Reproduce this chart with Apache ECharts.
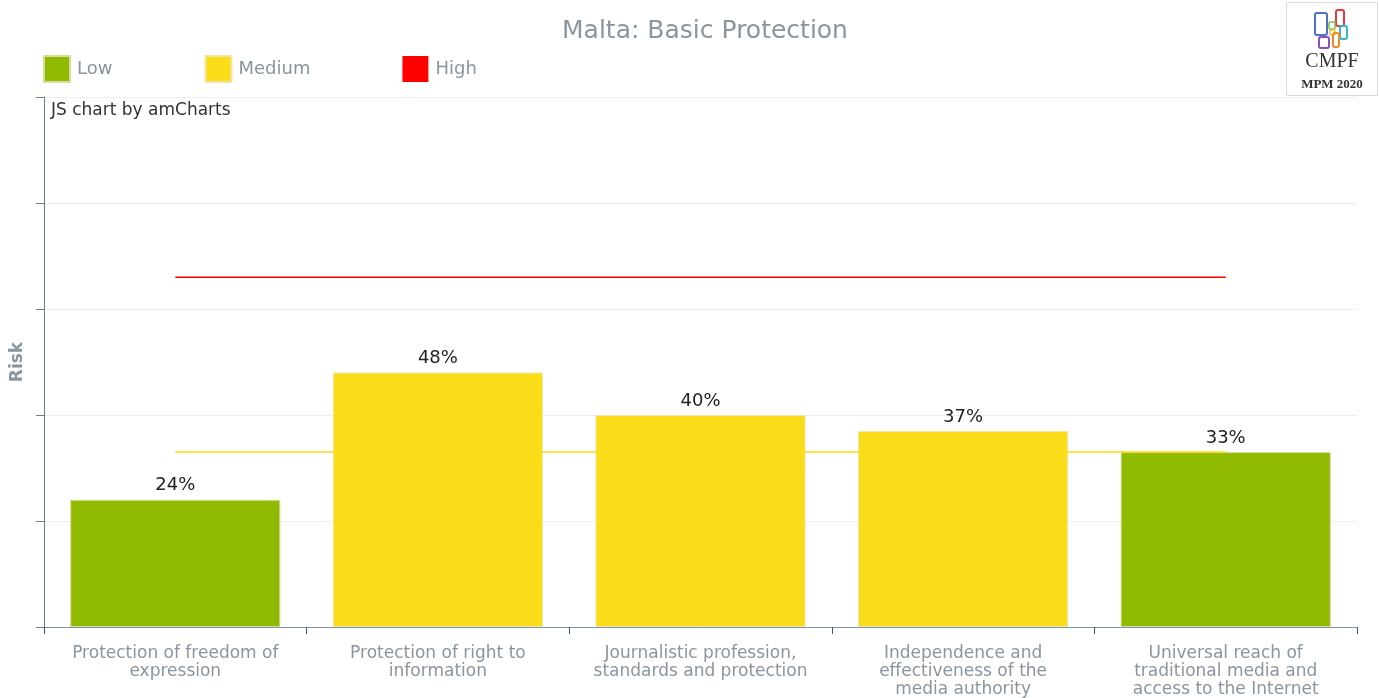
<!DOCTYPE html>
<html>
<head>
<meta charset="utf-8">
<title>Malta: Basic Protection</title>
<script src="https://cdn.jsdelivr.net/npm/echarts@6/dist/echarts.min.js"></script>
<style>
  html, body { margin: 0; padding: 0; background: #ffffff; }
  #chart { width: 1379px; height: 698px; }
</style>
</head>
<body>
<div id="chart"></div>
<script>
// Areas of the Basic Protection indicator and their risk scores (%)
const categories = [
  'Protection of freedom of\nexpression',
  'Protection of right to\ninformation',
  'Journalistic profession,\nstandards and protection',
  'Independence and\neffectiveness of the\nmedia authority',
  'Universal reach of\ntraditional media and\naccess to the Internet'
];
const riskValues = [24, 48, 40, 37, 33];

// Risk band limits
const mediumLimit = 33;
const highLimit = 66;

const yTicks = [0, 20, 40, 60, 80, 100];

const GREEN = '#8fba00';
const YELLOW = '#fadc19';
const RED = '#ff0000';
const GREY_TEXT = '#8a959f';

// split scores into the Low / Medium band series (bars overlap in one slot)
const lowData = riskValues.map(v => (v <= mediumLimit ? v : '-'));
const mediumData = riskValues.map(v => (v > mediumLimit && v <= highLimit ? v : '-'));
const mediumLine = categories.map(() => mediumLimit);
const highLine = categories.map(() => highLimit);

const chart = echarts.init(document.getElementById('chart'), null, { renderer: 'canvas' });

const barLabel = {
  show: true,
  position: 'top',
  distance: 5,
  color: '#222222',
  fontSize: 18,
  fontFamily: 'DejaVu Sans',
  formatter: p => p.value + '%'
};

const option = {
  animation: false,
  backgroundColor: '#ffffff',
  textStyle: { fontFamily: 'DejaVu Sans' },
  title: {
    text: 'Malta: Basic Protection',
    left: 700,
    textAlign: 'center',
    top: 14,
    textStyle: { color: GREY_TEXT, fontSize: 25, fontWeight: 'normal', fontFamily: 'DejaVu Sans' }
  },
  legend: {
    data: ['Low', 'Medium', 'High'],
    left: 38,
    top: 50,
    icon: 'rect',
    itemWidth: 26,
    itemHeight: 26,
    itemGap: 92,
    textStyle: { color: GREY_TEXT, fontSize: 18, fontFamily: 'DejaVu Sans', padding: [0, 0, 0, 2] },
    selectedMode: false
  },
  grid: { left: 44, right: 22, top: 97, bottom: 71, containLabel: false, outerBoundsMode: 'none' },
  xAxis: {
    type: 'category',
    data: categories,
    boundaryGap: true,
    axisLine: { lineStyle: { color: '#7d93a6', width: 1 } },
    axisTick: { show: true, length: 7, lineStyle: { color: '#2f5c80' } },
    axisLabel: {
      color: GREY_TEXT,
      fontSize: 17,
      lineHeight: 18,
      margin: 18,
      interval: 0,
      fontFamily: 'DejaVu Sans'
    }
  },
  yAxis: {
    type: 'value',
    min: yTicks[0],
    max: yTicks[yTicks.length - 1],
    interval: 20,
    name: 'Risk',
    nameLocation: 'middle',
    nameRotate: 90,
    nameGap: 18,
    nameTextStyle: { color: GREY_TEXT, fontSize: 17, fontWeight: 'bold', fontFamily: 'DejaVu Sans' },
    axisLine: { show: true, lineStyle: { color: '#6f7e8c', width: 1 } },
    axisTick: { show: true, length: 8, lineStyle: { color: '#6f7e8c' } },
    axisLabel: { show: false },
    splitLine: { show: true, lineStyle: { color: '#eeeeee', width: 1 } }
  },
  series: [
    {
      name: 'Low',
      type: 'bar',
      data: lowData,
      barWidth: '80%',
      barGap: '-100%',
      itemStyle: { color: GREEN, borderColor: '#d8dc9a', borderWidth: 1 },
      label: barLabel,
      z: 2
    },
    {
      name: 'Medium',
      type: 'bar',
      data: mediumData,
      barWidth: '80%',
      itemStyle: { color: YELLOW, borderColor: '#f2e6a6', borderWidth: 1 },
      label: barLabel,
      z: 2
    },
    {
      name: 'Medium limit',
      type: 'line',
      data: mediumLine,
      symbol: 'none',
      color: YELLOW,
      lineStyle: { color: YELLOW, width: 1.5 },
      z: 3
    },
    {
      name: 'High',
      type: 'line',
      data: highLine,
      symbol: 'none',
      color: RED,
      itemStyle: { color: RED },
      lineStyle: { color: RED, width: 1.5 },
      z: 3
    }
  ],
  graphic: [
    {
      type: 'text',
      left: 51,
      top: 102,
      style: { text: 'JS chart by amCharts', fill: '#333333', fontSize: 17, fontFamily: 'DejaVu Sans' }
    },
    // CMPF / MPM 2020 badge
    {
      type: 'group',
      left: 1286,
      top: 2,
      children: [
        { type: 'rect', shape: { x: 0.5, y: 0.5, width: 91, height: 93 },
          style: { fill: '#ffffff', stroke: '#dddddd', lineWidth: 1 } },
        { type: 'rect', shape: { x: 29, y: 11, width: 12, height: 22, r: 2 },
          style: { fill: 'none', stroke: '#4a72c8', lineWidth: 2 } },
        { type: 'rect', shape: { x: 50, y: 8, width: 8, height: 16, r: 2 },
          style: { fill: 'none', stroke: '#e8383d', lineWidth: 2 } },
        { type: 'rect', shape: { x: 43, y: 20, width: 6, height: 7, r: 1 },
          style: { fill: 'none', stroke: '#7bbf3f', lineWidth: 1.5 } },
        { type: 'rect', shape: { x: 44, y: 28, width: 5, height: 5, r: 1 },
          style: { fill: 'none', stroke: '#f2c12e', lineWidth: 1.5 } },
        { type: 'rect', shape: { x: 54, y: 24, width: 7, height: 13, r: 2 },
          style: { fill: 'none', stroke: '#2fb8d9', lineWidth: 2 } },
        { type: 'rect', shape: { x: 47, y: 31, width: 6, height: 14, r: 2 },
          style: { fill: 'none', stroke: '#f08a24', lineWidth: 2 } },
        { type: 'rect', shape: { x: 33, y: 35, width: 10, height: 11, r: 2 },
          style: { fill: 'none', stroke: '#8e4fc1', lineWidth: 2 } },
        { type: 'text', x: 46, y: 50,
          style: { text: 'CMPF', fill: '#333333', fontSize: 20, fontFamily: 'Liberation Serif', align: 'center' } },
        { type: 'text', x: 46, y: 76,
          style: { text: 'MPM 2020', fill: '#333333', fontSize: 13, fontWeight: 'bold', fontFamily: 'Liberation Serif', align: 'center' } }
      ]
    }
  ]
};

chart.setOption(option);
</script>
</body>
</html>
